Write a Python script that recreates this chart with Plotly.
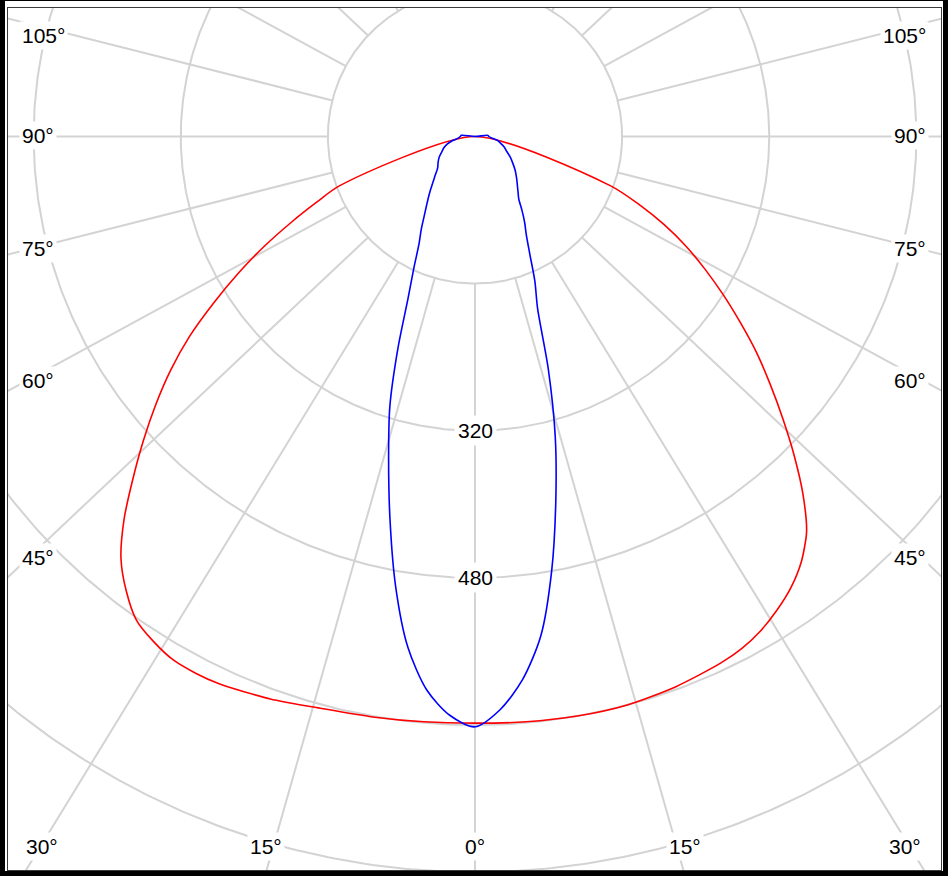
import numpy as np
import plotly.graph_objects as go

# ---------------- data: gamma angle (deg) and luminous intensity (cd) ----------------
red_gamma = [0, 5, 10, 15, 20, 25, 27.5, 30, 32.5, 35, 37.5, 40, 42.5, 45, 47.5, 50,
             52.5, 55, 57.5, 60, 62.5, 65, 67.5, 70, 75, 80, 85, 90]
red_left = [638, 639, 641, 644, 651, 657, 658, 657, 651, 642, 623, 599, 565, 526, 489, 453,
            417, 379, 337, 297, 258, 220, 186, 157, 0, 0, 0, 0]
red_right = [638, 639, 640, 640, 637, 632, 628, 621, 611, 599, 583, 561, 528, 491, 454, 419,
             386, 352, 320, 289, 259, 227, 193, 157, 0, 0, 0, 0]

blue_gamma = [0, 2.5, 5, 7.5, 10, 12.5, 15, 17.5, 20, 22.5, 25, 27.5, 30, 32.5, 35, 37.5,
              40, 45, 50, 55, 60, 65, 70, 75, 80, 85, 90, 95, 100]
blue_left = [642, 630, 604, 560, 497, 427, 363, 308, 245, 190, 157, 132, 117, 103, 92, 83,
             75, 62, 53, 49, 45, 40, 36, 31, 24, 18, 16, 15, 0]
blue_right = [642, 624, 593, 548, 480, 406, 337, 265, 199, 170, 141, 121, 108, 95, 83, 77,
              72, 64, 57, 50, 44, 38, 34, 29, 25, 18, 15, 14, 0]

ring_values = [160, 320, 480, 640, 800, 960]
ring_labels = [320, 480]
side_angle_labels = [105, 90, 75, 60, 45]
bottom_angle_labels = [-30, -15, 0, 15, 30]
spoke_step = 15

# ---------------- geometry (pixels) ----------------
W, H = 948, 876
FL, FR, FT, FB = 8, 941, 8, 870          # inner frame / plot area
CX, CY = 475, 136.5                       # pole position
S = 0.9195                                # px per cd
SPOKE_K = 1.06                            # horizontal stretch of the angle spokes

# label placement (pixels)
SIDE_LABEL_Y = [36, 135, 248, 380, 557]
LEFT_LABEL_X, RIGHT_LABEL_X = 19, 929
BOTTOM_LABEL_X = [41.5, 266, 475, 685, 905]
BOTTOM_LABEL_Y = 846

x_range = [(FL - CX) / S, (FR - CX) / S]
y_range = [-(FB - CY) / S, (CY - FT) / S]


def polar_xy(angles_deg, values):
    a = np.radians(np.asarray(angles_deg, dtype=float))
    v = np.asarray(values, dtype=float)
    return v * np.sin(a), -v * np.cos(a)


def full_curve(gam, left, right):
    ang = [-g for g in gam[::-1]] + list(gam[1:])
    val = list(left[::-1]) + list(right[1:])
    x, y = polar_xy(ang, val)
    keep = np.ones(len(x), dtype=bool)
    keep[1:] = (np.abs(np.diff(x)) > 1e-9) | (np.abs(np.diff(y)) > 1e-9)
    return x[keep], y[keep]


fig = go.Figure()

GRID = "#d3d3d3"
t = np.linspace(0, 360, 721)
for rv in ring_values:
    gx, gy = polar_xy(t, np.full_like(t, rv))
    fig.add_trace(go.Scatter(x=gx, y=gy, mode="lines", line=dict(color=GRID, width=2),
                             hoverinfo="skip", showlegend=False))
for a in range(-180, 180, spoke_step):
    ar = np.radians(a)
    phi = np.degrees(np.arctan2(SPOKE_K * np.sin(ar), np.cos(ar)))
    sx, sy = polar_xy([phi, phi], [ring_values[0], 2000])
    fig.add_trace(go.Scatter(x=sx, y=sy, mode="lines", line=dict(color=GRID, width=2),
                             hoverinfo="skip", showlegend=False))

rx, ry = full_curve(red_gamma, red_left, red_right)
fig.add_trace(go.Scatter(x=rx, y=ry, mode="lines",
                         line=dict(color="#ff0000", width=1.6, shape="spline", smoothing=0.7),
                         name="C0-C180", showlegend=False))
bx, by = full_curve(blue_gamma, blue_left, blue_right)
fig.add_trace(go.Scatter(x=bx, y=by, mode="lines",
                         line=dict(color="#0000ff", width=1.6, shape="spline", smoothing=0.8),
                         name="C90-C270", showlegend=False))


def px_x(p):
    return (p - FL) / (FR - FL)


def px_y(p):
    return (FB - p) / (FB - FT)


FONT = dict(family="Liberation Sans, Arial, sans-serif", size=21, color="#000000")
ann = []
for rv in ring_labels:
    ann.append(dict(x=0, y=-rv, text=str(rv), showarrow=False, font=FONT,
                    bgcolor="white", borderpad=3, xanchor="center", yanchor="middle"))

for g, ypx in zip(side_angle_labels, SIDE_LABEL_Y):
    ann.append(dict(xref="paper", yref="paper", x=px_x(LEFT_LABEL_X), y=px_y(ypx),
                    text=f"{g}°", showarrow=False, font=FONT, bgcolor="white", borderpad=2,
                    xanchor="left", yanchor="middle"))
    ann.append(dict(xref="paper", yref="paper", x=px_x(RIGHT_LABEL_X), y=px_y(ypx),
                    text=f"{g}°", showarrow=False, font=FONT, bgcolor="white", borderpad=2,
                    xanchor="right", yanchor="middle"))

for a, xpx in zip(bottom_angle_labels, BOTTOM_LABEL_X):
    ann.append(dict(xref="paper", yref="paper", x=px_x(xpx), y=px_y(BOTTOM_LABEL_Y),
                    text=f"{abs(a)}°", showarrow=False, font=FONT, bgcolor="white",
                    borderpad=2, xanchor="center", yanchor="middle"))

shapes = []
for x0, y0, x1, y1 in [(0, 0, 5, H), (W - 5, 0, W, H), (0, 0, W, 1), (0, H - 5, W, H)]:
    shapes.append(dict(type="rect", xref="paper", yref="paper",
                       x0=px_x(x0), x1=px_x(x1), y0=px_y(y1), y1=px_y(y0),
                       fillcolor="#000000", line=dict(width=0), layer="above"))

fig.update_layout(
    width=W, height=H, autosize=False,
    margin=dict(l=FL, r=W - FR, t=FT, b=H - FB, pad=0),
    paper_bgcolor="white", plot_bgcolor="white",
    xaxis=dict(range=x_range, showgrid=False, zeroline=False, showticklabels=False,
               ticks="", showline=True, mirror=True, linecolor="#3a3a3a", linewidth=1,
               fixedrange=True),
    yaxis=dict(range=y_range, showgrid=False, zeroline=False, showticklabels=False,
               ticks="", showline=True, mirror=True, linecolor="#3a3a3a", linewidth=1,
               fixedrange=True),
    annotations=ann,
    shapes=shapes,
    showlegend=False,
)

fig.write_html("out.html", config={"displayModeBar": False},
               post_script="document.body.style.margin='0';document.body.style.overflow='hidden';")
